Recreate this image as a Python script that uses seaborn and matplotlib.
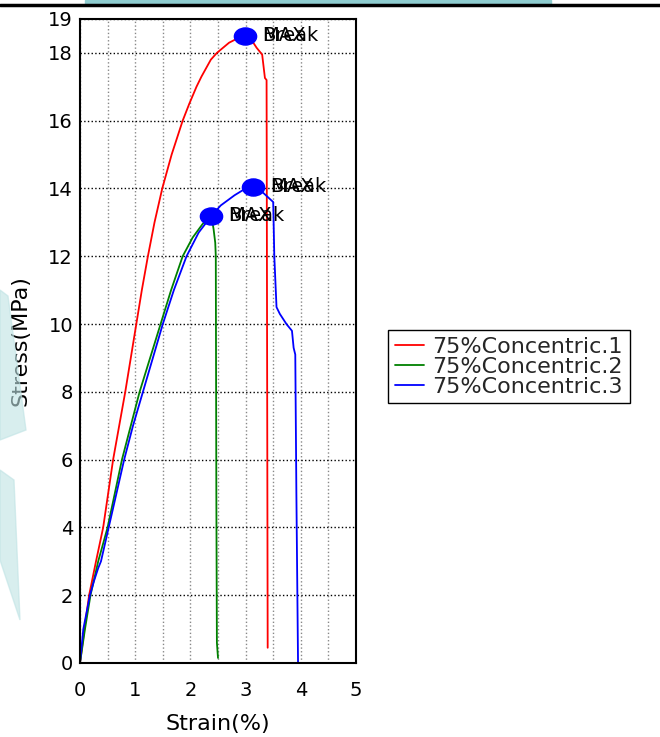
import matplotlib
matplotlib.use("Agg")
import matplotlib.pyplot as plt
import matplotlib.patches as mpatches
from matplotlib.path import Path
from matplotlib.transforms import Affine2D
import seaborn as sns
import numpy as np
import pandas as pd

# data
strain1 = [0, 0.08, 0.165, 0.29, 0.42, 0.51, 0.6, 0.71, 0.82, 0.92, 1.02, 1.12, 1.23, 1.35,
           1.49, 1.66, 1.86, 1.98, 2.11, 2.2, 2.37, 2.48, 2.7, 2.88, 2.99, 3.1, 3.2, 3.3,
           3.35, 3.38, 3.40]
stress1 = [0, 1.0, 2.0, 3.0, 4.0, 5.0, 6.0, 7.0, 8.0, 9.0, 10.0, 11.0, 12.0, 13.0,
           14.0, 15.0, 16.0, 16.5, 17.0, 17.3, 17.8, 18.0, 18.3, 18.45, 18.5, 18.4, 18.15, 17.95,
           17.26, 17.2, 0.45]

strain2 = [0, 0.09, 0.19, 0.33, 0.5, 0.63, 0.76, 0.92, 1.08, 1.27, 1.46, 1.65, 1.86,
           2.04, 2.22, 2.38, 2.42, 2.45, 2.46, 2.47, 2.48, 2.50]
stress2 = [0, 1.0, 2.0, 3.0, 4.0, 5.0, 6.0, 7.0, 8.0, 9.0, 10.0, 11.0, 12.0,
           12.55, 12.95, 13.19, 12.8, 12.4, 12.0, 5.0, 0.6, 0.15]

strain3 = [0, 0.06, 0.18, 0.25, 0.33, 0.38, 0.52, 0.66, 0.8, 0.96, 1.14, 1.32, 1.5, 1.7,
           1.93, 2.15, 2.38, 2.55, 2.8, 3.0, 3.14, 3.32, 3.5, 3.52, 3.56, 3.62, 3.74, 3.84,
           3.87, 3.9, 3.92, 3.95]
stress3 = [0, 1.0, 2.0, 2.4, 2.8, 3.0, 4.0, 5.0, 6.0, 7.0, 8.0, 9.0, 10.0, 11.0,
           12.0, 12.7, 13.19, 13.5, 13.8, 14.0, 14.05, 13.87, 13.6, 12.0, 10.5, 10.3, 10.0, 9.8,
           9.3, 9.1, 5.0, 0]

names = ["75%Concentric.1", "75%Concentric.2", "75%Concentric.3"]
colors = ["red", "green", "blue"]

df = pd.concat([
    pd.DataFrame({"Strain": s, "Stress": t, "Specimen": n})
    for s, t, n in zip([strain1, strain2, strain3], [stress1, stress2, stress3], names)
], ignore_index=True)

sns.set_style("white")
plt.rcParams["font.family"] = ["DejaVu Sans"]

fig = plt.figure(figsize=(6.6, 7.37), dpi=100)

# background decoration of the page
fig.patches.append(mpatches.Rectangle((85 / 660, 1 - 5 / 737), 466 / 660, 5 / 737,
                                      transform=fig.transFigure, color="#8fcdd0", zorder=0))
fig.lines.append(plt.Line2D([0, 1], [1 - 5 / 737, 1 - 5 / 737], transform=fig.transFigure,
                            color="black", lw=2.5))
for pts in ([(0, 290), (8, 296), (26, 430), (0, 440)], [(0, 470), (14, 480), (20, 620), (0, 560)]):
    fig.patches.append(mpatches.Polygon([(x / 660, 1 - y / 737) for x, y in pts],
                                        transform=fig.transFigure, color="#bfe3e4",
                                        alpha=0.6, zorder=0))

ax = fig.add_axes([80 / 660, 74 / 737, 276 / 660, 644 / 737])

sns.lineplot(data=df, x="Strain", y="Stress", hue="Specimen", palette=colors,
             sort=False, estimator=None, lw=1.3, ax=ax, legend=True)

# stretched circle marker at the peak of each curve
circle = Path.unit_circle()
ellipse = circle.transformed(Affine2D().scale(1.3, 1.0))
for s, t in zip([strain1, strain2, strain3], [stress1, stress2, stress3]):
    i = int(np.argmax(t))
    ax.plot(s[i], t[i], marker=ellipse, ms=16, color="blue", zorder=5)
    for lab in ["MAX", "Break"]:
        ax.annotate(lab, (s[i], t[i]), xytext=(17, 0), textcoords="offset pixels",
                    va="center", ha="left", fontsize=14, color="black", zorder=6)

ax.set_xlim(0, 5)
ax.set_ylim(0, 19)
ax.set_xticks(range(0, 6))
ax.set_xticks(np.arange(0.5, 5, 1.0), minor=True)
ax.set_yticks(list(range(0, 19, 2)) + [19])
ax.grid(axis="x", which="both", color="#888888", linestyle=":", lw=1)
ax.grid(axis="y", which="major", color="black", linestyle=":", lw=1)
ax.tick_params(axis="both", which="both", length=0, labelsize=14, labelcolor="black")
ax.tick_params(axis="x", pad=13)
ax.tick_params(axis="y", pad=5)
ax.set_xlabel("Strain(%)", fontsize=16, labelpad=10, color="black")
ax.set_ylabel("Stress(MPa)", fontsize=16, labelpad=13, color="black")
for sp in ax.spines.values():
    sp.set_color("black")
    sp.set_linewidth(1.5)

handles, labels = ax.get_legend_handles_labels()
ax.legend(handles, labels, loc="upper left", bbox_to_anchor=(388 / 660, 1 - 330 / 737),
          bbox_transform=fig.transFigure, borderaxespad=0, fontsize=16, labelspacing=0,
          handlelength=1.3, handletextpad=0.4, borderpad=0.3, frameon=True,
          fancybox=False, edgecolor="black", framealpha=1)
ax.get_legend().get_frame().set_linewidth(1.0)

fig.savefig("out.png", dpi=100)
